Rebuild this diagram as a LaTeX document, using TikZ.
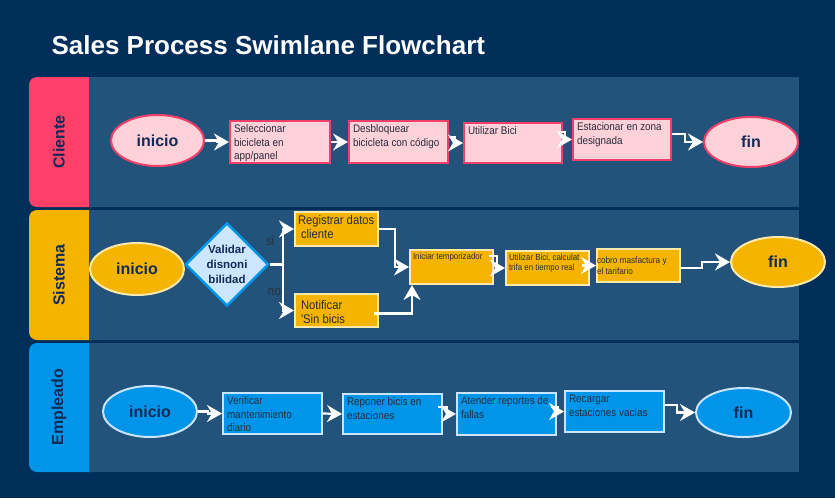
\documentclass[tikz,border=0pt]{standalone}
\usepackage{fontspec}
\setmainfont{Liberation Sans}
\newfontfamily\condfont[FakeStretch=0.9]{Liberation Sans}
\usetikzlibrary{shapes.geometric,arrows.meta,calc}
\definecolor{bgnavy}{RGB}{0,46,91}
\definecolor{lanebody}{RGB}{35,83,122}
\definecolor{pinkh}{RGB}{255,64,104}
\definecolor{pinkfill}{RGB}{255,209,216}
\definecolor{pinkline}{RGB}{240,64,106}
\definecolor{yel}{RGB}{245,180,0}
\definecolor{cream}{RGB}{255,233,170}
\definecolor{blu}{RGB}{0,149,232}
\definecolor{lblue}{RGB}{200,228,255}
\definecolor{dfill}{RGB}{205,230,255}
\definecolor{txtnavy}{RGB}{18,42,86}
\definecolor{boxtxt}{RGB}{40,44,62}
\definecolor{lbl}{RGB}{38,50,68}
\newcommand{\bxt}[3]{\parbox[c][#2pt][t]{#1pt}{\raggedright #3}}
\newcommand{\bxc}[3]{\parbox[c][#2pt][c]{#1pt}{\raggedright #3}}
\begin{document}
\begin{tikzpicture}[x=1pt,y=-1pt,
  arr/.style={draw=white, line width=2.2pt, -{Stealth[length=15pt,width=17pt,inset=5pt]}},
  plain/.style={draw=white, line width=2.2pt},
  ell/.style={ellipse, line width=2pt, inner sep=0pt, font=\bfseries\fontsize{16}{16}\selectfont, text=txtnavy},
  ellc/.style={ell, draw=pinkline, fill=pinkfill},
  ells/.style={ell, draw=cream, fill=yel},
  elle/.style={ell, draw=lblue, fill=blu},
  boxc/.style={draw=pinkline, fill=pinkfill, line width=2pt, inner sep=4pt, text=boxtxt, font=\condfont\fontsize{11}{13.5}\selectfont},
  boxs/.style={draw=cream, fill=yel, line width=2pt, inner sep=3pt, text=boxtxt},
  boxe/.style={draw=lblue, fill=blu, line width=2pt, inner sep=4pt, text=boxtxt, font=\condfont\fontsize{11}{13.5}\selectfont},
  lanelbl/.style={rotate=90, font=\bfseries\fontsize{16}{16}\selectfont, text=txtnavy},
  branchlbl/.style={font=\condfont\fontsize{13}{13}\selectfont, text=lbl}
]
% background
\fill[bgnavy] (0,0) rectangle (835,498);
\node[anchor=west, font=\bfseries\fontsize{26}{26}\selectfont, text=white] (title) at (48,45) {Sales Process Swimlane Flowchart};

% lanes
\fill[pinkh, rounded corners=8pt] (29,77) rectangle (100,207);
\fill[lanebody] (89,77) rectangle (799,207);
\fill[yel, rounded corners=8pt] (29,210) rectangle (100,340);
\fill[lanebody] (89,210) rectangle (799,340);
\fill[blu, rounded corners=8pt] (29,343) rectangle (100,472);
\fill[lanebody] (89,343) rectangle (799,472);
\node[lanelbl] (lc) at (59,142) {Cliente};
\node[lanelbl] (ls) at (59,275) {Sistema};
\node[lanelbl] (le) at (59,407) {Empleado};

% Cliente
\node[ellc, minimum width=93pt, minimum height=51pt] (cs) at (157.5,140.5) {inicio};
\node[boxc] (c1) at (280,142) {\bxt{92}{34}{Seleccionar\\bicicleta en\\app/panel}};
\node[boxc] (c2) at (398.5,142) {\bxt{91}{34}{Desbloquear\\bicicleta con código}};
\node[boxc] (c3) at (513,143) {\bxt{90}{32}{Utilizar Bici}};
\node[boxc] (c4) at (622,139.5) {\bxt{90}{33}{Estacionar en zona\\designada}};
\node[ellc, minimum width=94pt, minimum height=50pt] (ce) at (751,142) {fin};

\draw[arr] (cs.east) -- ++(12,0) |- (c1.west);
\draw[arr] (c1.east) -- (c2.west);
\draw[arr] ($(c2.east)+(0,-5)$) -- ++(6,0) |- (c3.west);
\draw[arr] ($(c3.east)+(-4,-11)$) -- ++(6,0) |- (c4.west);
\draw[arr] ($(c4.east)+(0,-5.5)$) -- ++(13,0) |- (ce.west);

% Sistema
\node[ells, minimum width=94pt, minimum height=52pt] (ss) at (137,269) {inicio};
\node[diamond, draw=blu, fill=dfill, line width=2.5pt, inner sep=0pt, minimum width=78pt, minimum height=83pt, text=txtnavy, font=\bfseries\fontsize{11.5}{15}\selectfont, align=center] (dv) at (227,264.5) {\raisebox{-5pt}{\parbox{45pt}{\centering Validar\\disnoni\\bilidad}}};
\coordinate (br) at (283,264.5);
\node[boxs, font=\condfont\fontsize{12.5}{14.5}\selectfont] (reg) at (336.5,229) {\bxt{77}{28}{Registrar datos\\\hspace*{3pt}cliente}};
\node[boxs, inner sep=6pt, font=\condfont\fontsize{12.5}{14.5}\selectfont] (nt) at (336.5,310.5) {\bxt{71}{21}{Notificar\\'Sin bicis}};
\node[boxs, font=\condfont\fontsize{8.8}{10.5}\selectfont] (it) at (451.5,267) {\bxt{77}{28}{Iniciar temporizador}};
\node[boxs, font=\condfont\fontsize{8.8}{10.5}\selectfont] (ut) at (547.5,268) {\bxt{77}{28}{Utilizar Bici, calculat\\trifa en tiempo real}};
\node[boxs, inner sep=0pt, font=\condfont\fontsize{9.1}{10.8}\selectfont] (cb) at (638.5,265.5) {\bxc{83}{33}{cobro masfactura y\\el tarifario}};
\node[ells, minimum width=94pt, minimum height=50pt] (se) at (778,262) {fin};

\draw[plain] (dv.east) -- (br);
\draw[arr] (br) |- (reg.west);
\draw[arr] (br) |- (nt.west);
\node[branchlbl] (si) at (270,241) {si};
\node[branchlbl] (no) at (274.5,292) {no};
\draw[arr] (reg.east) -- ++(16,0) |- (it.west);
\draw[arr] ($(nt.east)+(-5,3)$) -| ($(it.south west)+(3,0)$);
\draw[arr] ($(it.east)+(-5,-11)$) -- ++(8,0) |- (ut.west);
\draw[arr] ($(ut.east)+(-8,-2.5)$) -- (cb.west);
\draw[arr] ($(cb.east)+(0,2.5)$) -- ++(21,0) |- (se.west);

% Empleado
\node[elle, minimum width=94pt, minimum height=51pt] (es) at (150,411.5) {inicio};
\node[boxe] (e1) at (272.5,413.5) {\bxt{91}{33}{Verificar\\mantenimiento\\diario}};
\node[boxe] (e2) at (392.5,414) {\bxt{91}{32}{Reponer bicis en\\estaciones}};
\node[boxe] (e3) at (506.5,414) {\bxt{91}{34}{Atender reportes de\\fallas}};
\node[boxe] (e4) at (614.5,411.5) {\bxt{91}{33}{Recargar\\estaciones vacías}};
\node[elle, minimum width=95pt, minimum height=49pt] (ee) at (743.5,412.5) {fin};

\draw[arr] (es.east) -- ++(10,0) |- (e1.west);
\draw[arr] (e1.east) -- (e2.west);
\draw[arr] ($(e2.east)+(-5,-7)$) -- ++(9,0) |- (e3.west);
\draw[arr] ($(e3.east)+(-6,-7)$) -- ++(7,0) |- (e4.west);
\draw[arr] ($(e4.east)+(0,-6.5)$) -- ++(12,0) |- (ee.west);
\end{tikzpicture}
\end{document}
